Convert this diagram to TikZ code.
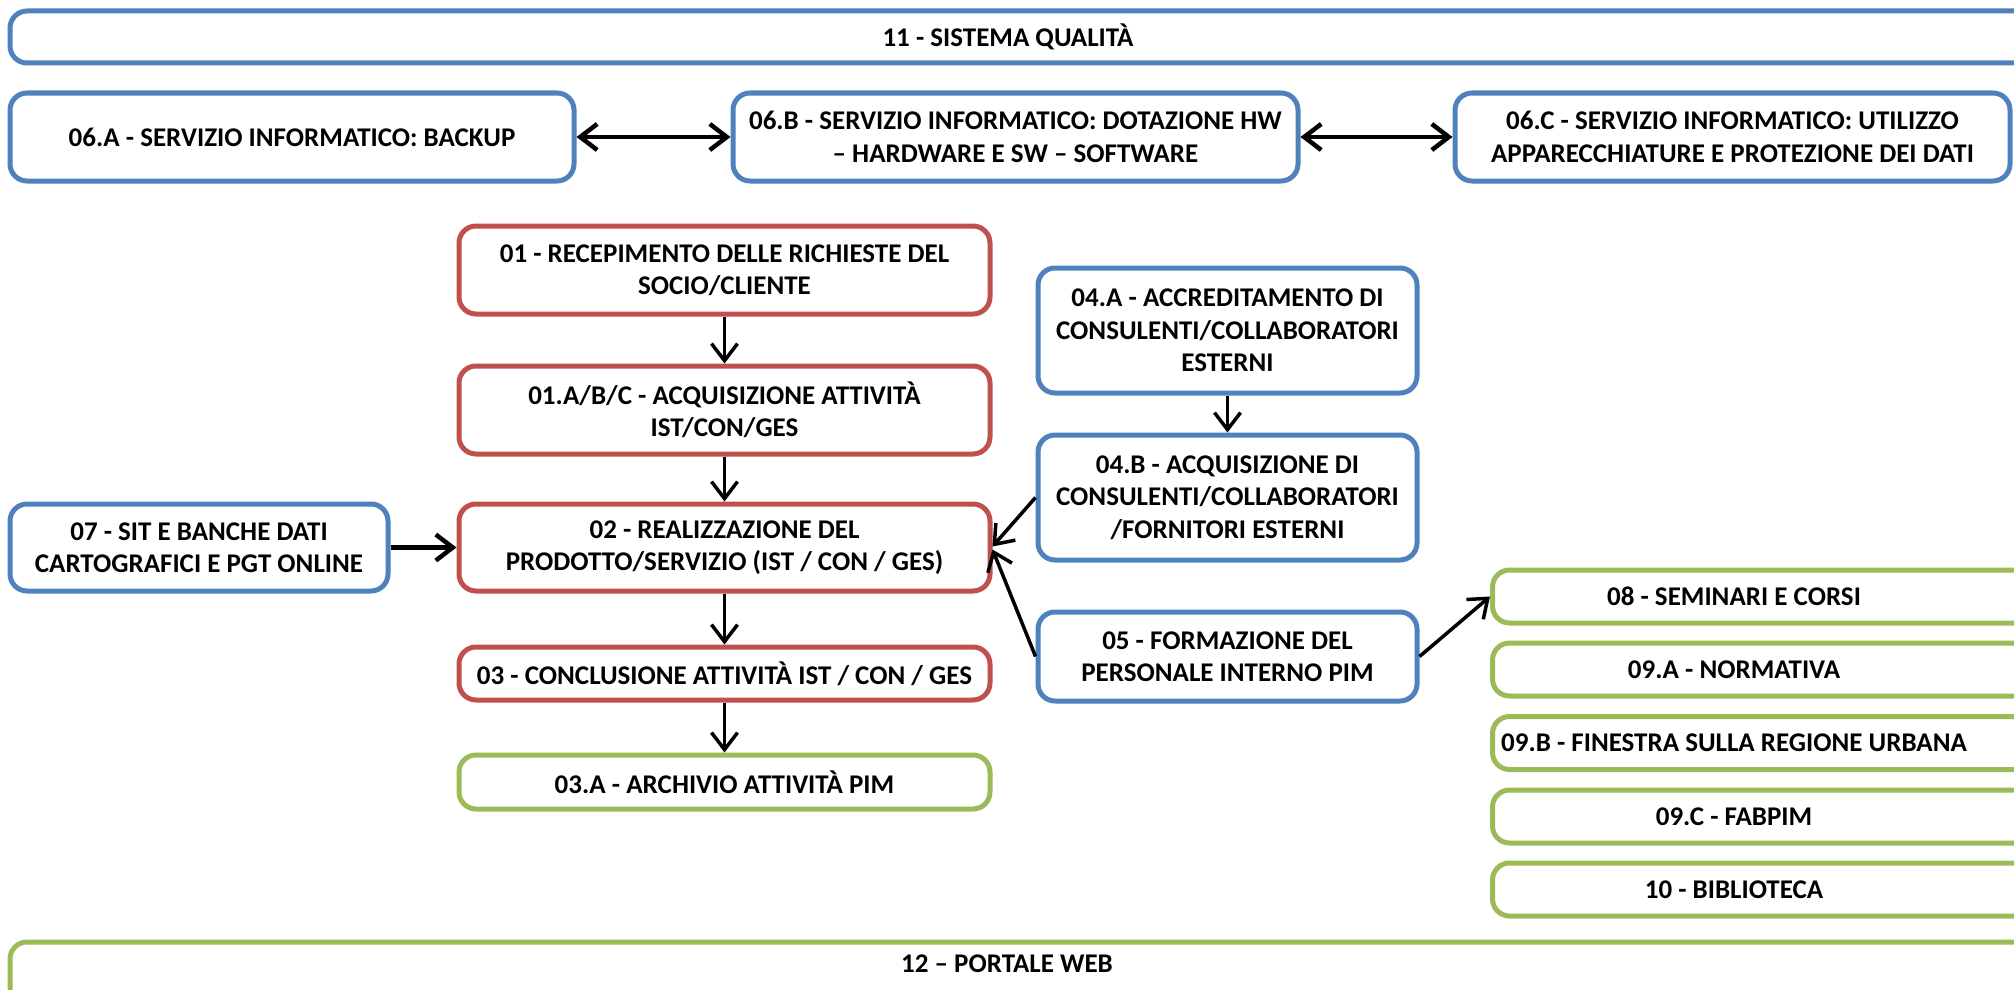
\documentclass[tikz,border=0pt]{standalone}
\usepackage{fontspec}
\setmainfont{Carlito}
\usetikzlibrary{arrows.meta}

\definecolor{pimblue}{HTML}{4F81BD}
\definecolor{pimred}{HTML}{C0504D}
\definecolor{pimgreen}{HTML}{9BBB59}
\newcommand\pimfont{\fontsize{27}{32.3}\selectfont\bfseries}

\begin{document}
\begin{tikzpicture}[x=1pt,y=-1pt,
  box/.style={line width=5pt, rounded corners=17pt, fill=white, align=center,
              inner sep=0pt, font=\pimfont},
  bluebox/.style={box, draw=pimblue},
  redbox/.style={box, draw=pimred},
  greenbox/.style={box, draw=pimgreen},
  lbl/.style={align=center, inner sep=0pt, font=\pimfont},
  barb/.tip={Straight Barb[length=17pt,width=26pt]},
  flow/.style={black, line width=3.5pt, -barb},
  feed/.style={flow, line width=4.5pt},
  link/.style={black, line width=4.5pt, barb-barb}
]
\useasboundingbox (0,0) rectangle (2014,990);

% quality system band (runs past the right margin)
\draw[line width=5pt, rounded corners=17pt, draw=pimblue] (10,11) rectangle (2080,63);
\node[lbl] (t11) at (1008,37) {11 - SISTEMA QUALITÀ};

% IT services row
\node[bluebox, minimum width=564pt, minimum height=88pt] (s6a) at (292,137)
  {06.A - SERVIZIO INFORMATICO: BACKUP};
\node[bluebox, minimum width=565pt, minimum height=88pt] (s6b) at (1015.5,137)
  {06.B - SERVIZIO INFORMATICO: DOTAZIONE HW\\– HARDWARE E SW – SOFTWARE};
\node[bluebox, minimum width=555pt, minimum height=88pt] (s6c) at (1732.5,137)
  {06.C - SERVIZIO INFORMATICO: UTILIZZO\\APPARECCHIATURE E PROTEZIONE DEI DATI};

% main production chain
\node[redbox, minimum width=531pt, minimum height=88pt] (r01) at (724.5,270)
  {01 - RECEPIMENTO DELLE RICHIESTE DEL\\SOCIO/CLIENTE};
\node[redbox, minimum width=531pt, minimum height=88pt] (r01abc) at (724.5,410)
  {01.A/B/C - ACQUISIZIONE ATTIVITÀ\\IST/CON/GES};
\node[redbox, minimum width=531pt, minimum height=87pt] (r02) at (724.5,547.5)
  {02 - REALIZZAZIONE DEL\\PRODOTTO/SERVIZIO (IST / CON / GES)};
\node[redbox, minimum width=531pt, minimum height=53pt] (r03) at (724.5,673.5)
  {03 - CONCLUSIONE ATTIVITÀ IST / CON / GES};
\node[greenbox, minimum width=531pt, minimum height=54pt] (g03a) at (724.5,782)
  {03.A - ARCHIVIO ATTIVITÀ PIM};

% inputs to the production
\node[bluebox, minimum width=378pt, minimum height=87pt] (s07) at (199,547.5)
  {07 - SIT E BANCHE DATI\\CARTOGRAFICI E PGT ONLINE};
\node[bluebox, minimum width=379pt, minimum height=125pt] (s04a) at (1227.5,330.5)
  {04.A - ACCREDITAMENTO DI\\CONSULENTI/COLLABORATORI\\ESTERNI};
\node[bluebox, minimum width=379pt, minimum height=125pt] (s04b) at (1227.5,497.5)
  {04.B - ACQUISIZIONE DI\\CONSULENTI/COLLABORATORI\\/FORNITORI ESTERNI};
\node[bluebox, minimum width=379pt, minimum height=89pt] (s05) at (1227.5,656.5)
  {05 - FORMAZIONE DEL\\PERSONALE INTERNO PIM};

% training and documentation column (runs past the right margin)
\node[greenbox, anchor=west, minimum width=600pt, minimum height=53pt] (g08) at (1490,596.5) {};
\node[lbl] (t08) at (1734,596.5) {08 - SEMINARI E CORSI};
\node[greenbox, anchor=west, minimum width=600pt, minimum height=53pt] (g09a) at (1490,669.5) {};
\node[lbl] (t09a) at (1734,669.5) {09.A - NORMATIVA};
\node[greenbox, anchor=west, minimum width=600pt, minimum height=53pt] (g09b) at (1490,743) {};
\node[lbl] (t09b) at (1734,743) {09.B - FINESTRA SULLA REGIONE URBANA};
\node[greenbox, anchor=west, minimum width=600pt, minimum height=53pt] (g09c) at (1490,816.5) {};
\node[lbl] (t09c) at (1734,816.5) {09.C - FABPIM};
\node[greenbox, anchor=west, minimum width=600pt, minimum height=53pt] (g10) at (1490,889.5) {};
\node[lbl] (t10) at (1734,889.5) {10 - BIBLIOTECA};

% web portal band (runs past the bottom and right margins)
\draw[line width=5pt, rounded corners=17pt, draw=pimgreen] (10,942) rectangle (2080,1060);
\node[lbl] (t12) at (1007,964) {12 – PORTALE WEB};

% connectors
\draw[link] (s6a) -- (s6b);
\draw[link] (s6b) -- (s6c);
\draw[flow] (r01) -- (r01abc);
\draw[flow] (r01abc) -- (r02);
\draw[flow] (r02) -- (r03);
\draw[flow] (r03) -- (g03a);
\draw[feed] (s07) -- (r02);
\draw[flow] (s04a) -- (s04b);
\draw[flow] (s04b.west) -- ([yshift=1pt]r02.east);
\draw[flow] (s05.west) -- ([yshift=-2pt]r02.east);
\draw[flow] (s05.east) -- (g08.west);
\end{tikzpicture}
\end{document}
